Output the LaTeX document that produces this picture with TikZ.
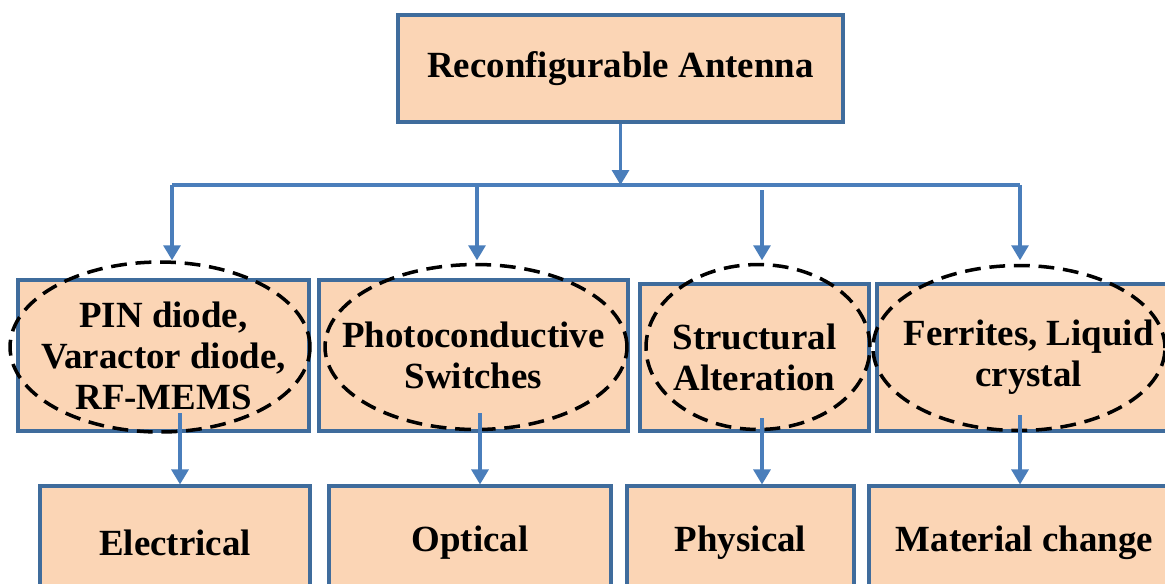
\documentclass[tikz,border=0pt]{standalone}
\usepackage{fontspec}
\setmainfont{Liberation Serif}
\usetikzlibrary{arrows.meta,shapes.geometric}
\definecolor{boxfill}{HTML}{FBD5B5}
\definecolor{boxline}{HTML}{3F6C9C}
\definecolor{linkblue}{HTML}{4A7EBB}
\begin{document}
\begin{tikzpicture}[x=0.02cm,y=-0.02cm,
    main node/.style={rectangle,draw=boxline,fill=boxfill,line width=1.8pt,inner sep=0pt,align=center,
        font=\fontsize{21pt}{23.3pt}\selectfont\bfseries},
    oval node/.style={ellipse,draw=black,line width=2pt,dash pattern=on 9pt off 5pt,inner sep=0pt},
    link/.style={draw=linkblue,line width=1.8pt,-{Triangle[width=0.34cm,length=0.3cm]}}]
        \useasboundingbox (0,0) rectangle (1165,583);
        \clip (0,0) rectangle (1165,583);

        \node[main node, minimum width=8.9cm, minimum height=2.14cm] at (620.5, 68.5) (top) {Reconfigurable Antenna};

        \node[main node, minimum width=5.82cm, minimum height=3.02cm] at (163.5, 355.5) (m1) {PIN diode,\\Varactor diode,\\RF-MEMS};
        \node[main node, minimum width=6.18cm, minimum height=3.02cm] at (473.5, 355.5) (m2) {Photoconductive\\Switches};
        \node[main node, minimum width=4.58cm, minimum height=2.94cm] at (754.5, 357.5) (m3) {Structural\\Alteration};
        \node[main node, minimum width=6.06cm, minimum height=2.94cm] at (1028.5, 357.5) (m4) {Ferrites, Liquid\\crystal};

        \node[main node, minimum width=5.4cm, minimum height=2.28cm] at (175, 543) (b1) {Electrical};
        \node[main node, minimum width=5.64cm, minimum height=2.28cm] at (470, 543) (b2) {Optical};
        \node[main node, minimum width=4.54cm, minimum height=2.28cm] at (740.5, 543) (b3) {Physical};
        \node[main node, minimum width=6.22cm, minimum height=2.28cm] at (1024.5, 543) (b4) {Material change};

        \node[oval node, minimum width=6cm, minimum height=3.4cm] at (160, 347) (e1) {};
        \node[oval node, minimum width=6.04cm, minimum height=3.3cm] at (476, 347) (e2) {};
        \node[oval node, minimum width=4.48cm, minimum height=3.3cm] at (758, 347) (e3) {};
        \node[oval node, minimum width=5.84cm, minimum height=3.3cm] at (1019, 348) (e4) {};

        \coordinate (t1) at (172, 185);
        \coordinate (t2) at (477, 185);
        \coordinate (t3) at (762, 190);
        \coordinate (t4) at (1020, 185);
        \coordinate (a1) at (180, 413);
        \coordinate (a2) at (480, 413);
        \coordinate (a3) at (762, 418);
        \coordinate (a4) at (1020, 415);

        \draw[draw=linkblue, line width=1.8pt] (t1) -- (t4);
        \path[every edge/.style={link}]
            (top.south) edge (top.south |- t1)
            (t1) edge (t1 |- e1.north)
            (t2) edge (t2 |- e1.north)
            (t3) edge (t3 |- e1.north)
            (t4) edge (t4 |- e1.north)
            (a1) edge (a1 |- b1.north)
            (a2) edge (a2 |- b2.north)
            (a3) edge (a3 |- b3.north)
            (a4) edge (a4 |- b4.north)
            ;
\end{tikzpicture}
\end{document}
